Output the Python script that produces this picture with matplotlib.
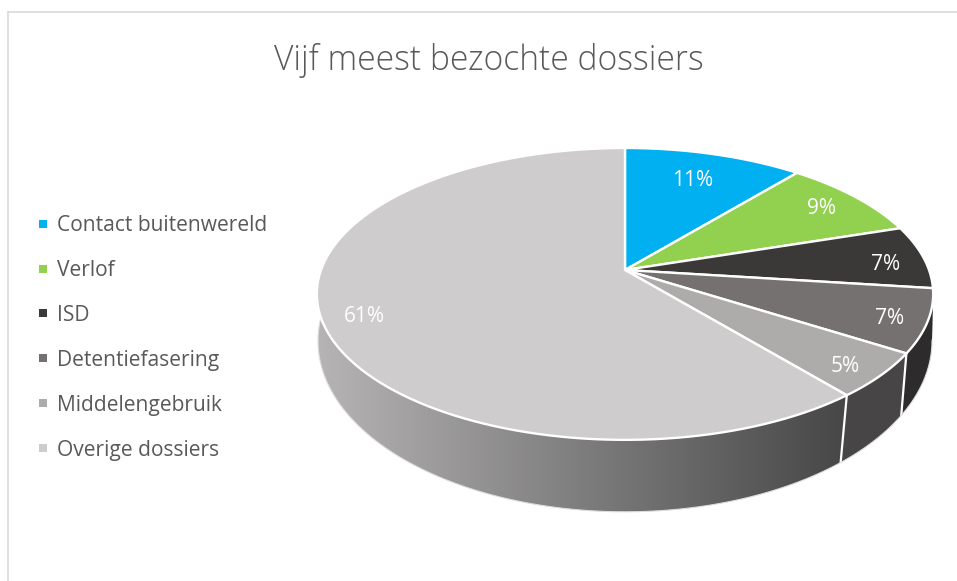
import numpy as np
import matplotlib
matplotlib.use('Agg')
import matplotlib.pyplot as plt
from matplotlib.colors import LinearSegmentedColormap
from matplotlib.lines import Line2D
from matplotlib.patches import Polygon

plt.rcParams['font.family'] = ['Open Sans', 'DejaVu Sans']

titel = 'Vijf meest bezochte dossiers'
dossiers = ['Contact buitenwereld', 'Verlof', 'ISD', 'Detentiefasering',
            'Middelengebruik', 'Overige dossiers']
percentages = [11, 9, 7, 7, 5, 61]
kleuren = ['#00b0f0', '#92d050', '#3b3838', '#767171', '#aeabab', '#cecccc']
wand_kleuren = ['#006a90', '#587d30', '#232222', '#2d2b2b', '#474545', None]

# plaats van de percentages, in pixels
label_xy = [(693, 181), (822, 209), (886, 264), (890, 318), (845, 366), (364, 316)]

fig = plt.figure(figsize=(9.57, 5.81), dpi=100)
ax = fig.add_axes([0, 0, 1, 1])

# perspectief van de schijf, bovenkant en onderkant
def rand(hoek, cy, A, B, K):
    u = np.sin(hoek)
    v = np.cos(hoek)
    w = 1 + K * v
    return 625 + A * u / w, cy - B * v / w

BOVEN = (270, 304, 142, 0.164)
ONDER = (318.7, 304.4, 168, 0.13)

grenzen = np.cumsum([0] + percentages) / 100 * 2 * np.pi

# zijkant, van achter naar voren
volgorde = [2, 0, 1, 3, 4, 5]
for i in volgorde:
    h = np.linspace(grenzen[i], grenzen[i + 1], 120)
    xb, yb = rand(h, *BOVEN)
    xo, yo = rand(h, *ONDER)
    x = np.concatenate([xb, xo[::-1]])
    y = np.concatenate([yb, yo[::-1]])
    if wand_kleuren[i] is None:
        vlak = Polygon(np.c_[x, y], closed=True, fc='none', ec='none')
        ax.add_patch(vlak)
        cmap = LinearSegmentedColormap.from_list('wand', ['#b6b4b4', '#474747'])
        im = ax.imshow(np.linspace(0, 1, 256).reshape(1, -1), cmap=cmap, aspect='auto',
                       extent=[317, 846, 520, 270], zorder=1)
        im.set_clip_path(vlak)
    else:
        ax.fill(x, y, color=wand_kleuren[i], lw=0, zorder=1)

# witte lijnen op de zijkant
for i in [4, 5]:
    xb, yb = rand(grenzen[i], *BOVEN)
    xo, yo = rand(grenzen[i], *ONDER)
    ax.plot([xb, xo], [yb, yo], color='white', lw=1.6, zorder=2)
h = np.linspace(grenzen[3], 2 * np.pi, 300)
xo, yo = rand(h, *ONDER)
ax.plot(xo, yo, color='#dcdcdc', lw=0.8, zorder=2)

# bovenkant
for i in range(len(percentages)):
    h = np.linspace(grenzen[i], grenzen[i + 1], 120)
    xb, yb = rand(h, *BOVEN)
    x = np.concatenate([[625], xb])
    y = np.concatenate([[270], yb])
    ax.fill(x, y, fc=kleuren[i], ec='white', lw=1.7, joinstyle='round', zorder=3)

for p, (x, y) in zip(percentages, label_xy):
    ax.text(x, y, '%d%%' % p, color='white', fontsize=15, ha='center', va='center', zorder=4)

# kader, alleen boven en links
ax.plot([8, 8], [581, 12], color='#d9d9d9', lw=1.2, zorder=0)
ax.plot([8, 957], [12, 12], color='#d9d9d9', lw=1.2, zorder=0)

ax.text(489, 61, titel, color='#595959', fontsize=24.2, weight='light', ha='center', va='center')

handles = [Line2D([], [], ls='', marker='s', ms=5.4, color=k, mew=0) for k in kleuren]
ax.legend(handles, dossiers, loc='upper left', bbox_to_anchor=(36 / 957, 1 - 215 / 581),
          frameon=False, fontsize=15.1, labelcolor='#595959', labelspacing=1.14,
          handlelength=0.7, handletextpad=0.3, borderpad=0, borderaxespad=0)

ax.set_xlim(0, 957)
ax.set_ylim(581, 0)
ax.axis('off')
plt.savefig('out.png', dpi=100)
